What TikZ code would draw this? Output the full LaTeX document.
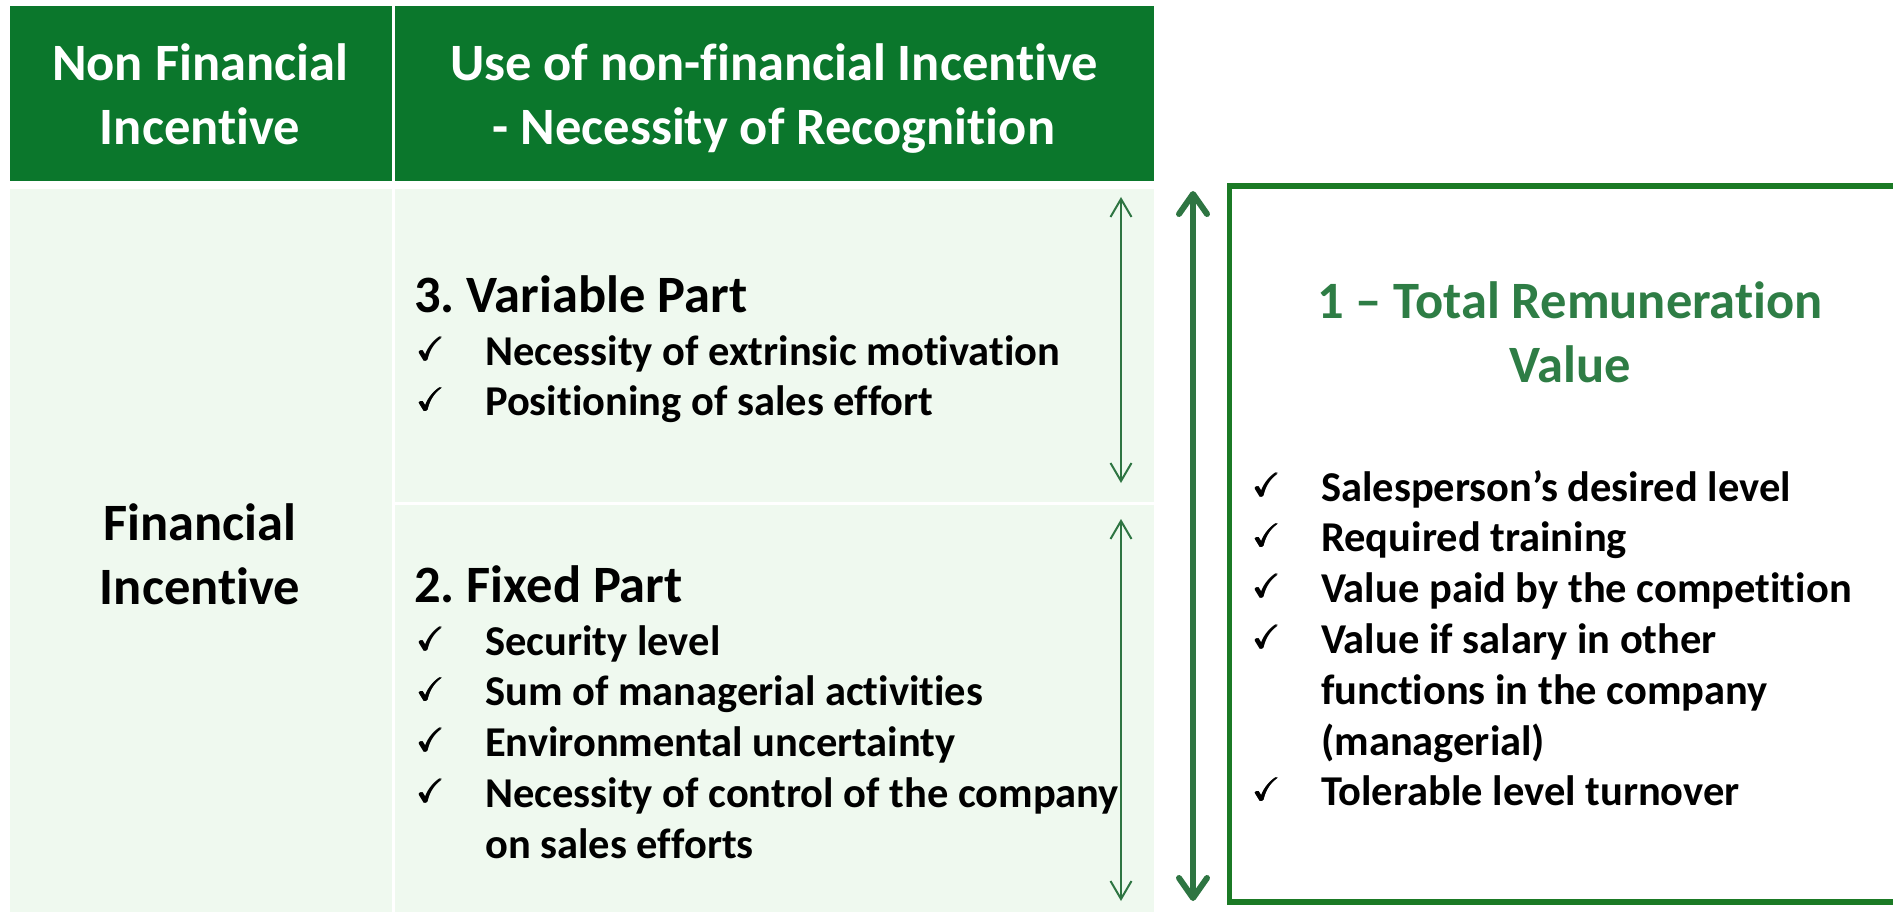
\documentclass[tikz,border=0pt]{standalone}
\usepackage{fontspec}
\usepackage{amssymb}
\usepackage{graphicx}
\setmainfont{Carlito}[Ligatures={NoCommon}]
\usetikzlibrary{arrows.meta}
\definecolor{hdrgreen}{HTML}{0B772C}
\definecolor{cellgreen}{HTML}{EFF9EF}
\definecolor{arrowgreen}{HTML}{2E7542}
\definecolor{boxgreen}{HTML}{1B7A25}
\definecolor{titlegreen}{HTML}{2E7D45}
\newcommand{\onechk}{\resizebox{27pt}{!}{$\checkmark$}}
\newcommand{\boldchk}{\rlap{\onechk}\rlap{\hspace{1.2pt}\onechk}\rlap{\raisebox{0.8pt}{\onechk}}\rlap{\hspace{1.2pt}\raisebox{0.8pt}{\onechk}}}
\newcommand{\chk}{\makebox[69pt][l]{\raisebox{5pt}{\boldchk}}}
\newcommand{\hang}{\hspace*{69pt}}
\tikzset{
  cellbox/.style={rectangle, inner sep=0pt, outer sep=0pt, draw=none},
  hdrcell/.style={cellbox, fill=hdrgreen},
  bodycell/.style={cellbox, fill=cellgreen},
  bigtext/.style={inner sep=0pt, font=\fontsize{52.5}{64}\selectfont\bfseries\frenchspacing},
  listtext/.style={inner sep=0pt, anchor=base west, font=\fontsize{42.5}{50.8}\selectfont\bfseries\frenchspacing},
  thinarrow/.style={draw=arrowgreen, line width=2pt, {Straight Barb[length=18pt,width=21pt]}-{Straight Barb[length=18pt,width=21pt]}},
  thickarrow/.style={draw=arrowgreen, line width=6pt, {Straight Barb[length=20pt,width=28pt,round]}-{Straight Barb[length=20pt,width=28pt,round]}},
}
\begin{document}
\begin{tikzpicture}[x=1pt,y=-1pt]
\useasboundingbox (0,0) rectangle (1893,912);
% header cells
\node[hdrcell, minimum width=382pt, minimum height=175pt] (h1) at (201,93.5) {};
\node[hdrcell, minimum width=759pt, minimum height=175pt] (h2) at (774.5,93.5) {};
\node[bigtext, text=white, anchor=base] (h1t) at (200,81) {\begin{tabular}[t]{@{}c@{}}Non Financial\\Incentive\end{tabular}};
\node[bigtext, text=white, anchor=base] (h2t) at (774,81) {\begin{tabular}[t]{@{}c@{}}Use of non-financial Incentive\\- Necessity of Recognition\end{tabular}};
% body cells
\node[bodycell, minimum width=382pt, minimum height=723pt] (c1) at (201,550.5) {};
\node[bodycell, minimum width=759pt, minimum height=313pt] (c2) at (774.5,345.5) {};
\node[bodycell, minimum width=759pt, minimum height=407pt] (c3) at (774.5,708.5) {};
\node[bigtext, anchor=base] (fin) at (200,540) {\begin{tabular}[t]{@{}c@{}}Financial\\Incentive\end{tabular}};
% variable part
\node[bigtext, anchor=base west] (varh) at (414,312) {3. Variable Part};
\node[listtext] (varl) at (416,365) {\begin{tabular}[t]{@{}l@{}}
\chk Necessity of extrinsic motivation\\
\chk Positioning of sales effort
\end{tabular}};
% fixed part
\node[bigtext, anchor=base west] (fixh) at (414,602) {2. Fixed Part};
\node[listtext] (fixl) at (416,655) {\begin{tabular}[t]{@{}l@{}}
\chk Security level\\
\chk Sum of managerial activities\\
\chk Environmental uncertainty\\
\chk Necessity of control of the company\\
\hang on sales efforts
\end{tabular}};
% thin arrows
\coordinate (a1t) at (1121,197);
\coordinate (a1b) at (1121,483);
\coordinate (a2t) at (1121,519);
\coordinate (a2b) at (1121,901);
\draw[thinarrow] (a1t) -- (a1b);
\draw[thinarrow] (a2t) -- (a2b);
% thick arrow
\coordinate (bt) at (1193,191);
\coordinate (bb) at (1193,901);
\draw[thickarrow] (bt) -- (bb);
% total box
\node[cellbox, draw=boxgreen, line width=5.5pt, minimum width=685pt, minimum height=716pt] (tot) at (1572,544) {};
\node[bigtext, text=titlegreen, anchor=base] (title) at (1570,318) {\begin{tabular}[t]{@{}c@{}}1 – Total Remuneration\\Value\end{tabular}};
\node[listtext] (totl) at (1252,501) {\begin{tabular}[t]{@{}l@{}}
\chk Salesperson’s desired level\\
\chk Required training\\
\chk Value paid by the competition\\
\chk Value if salary in other\\
\hang functions in the company\\
\hang (managerial)\\
\chk Tolerable level turnover
\end{tabular}};
\end{tikzpicture}
\end{document}
